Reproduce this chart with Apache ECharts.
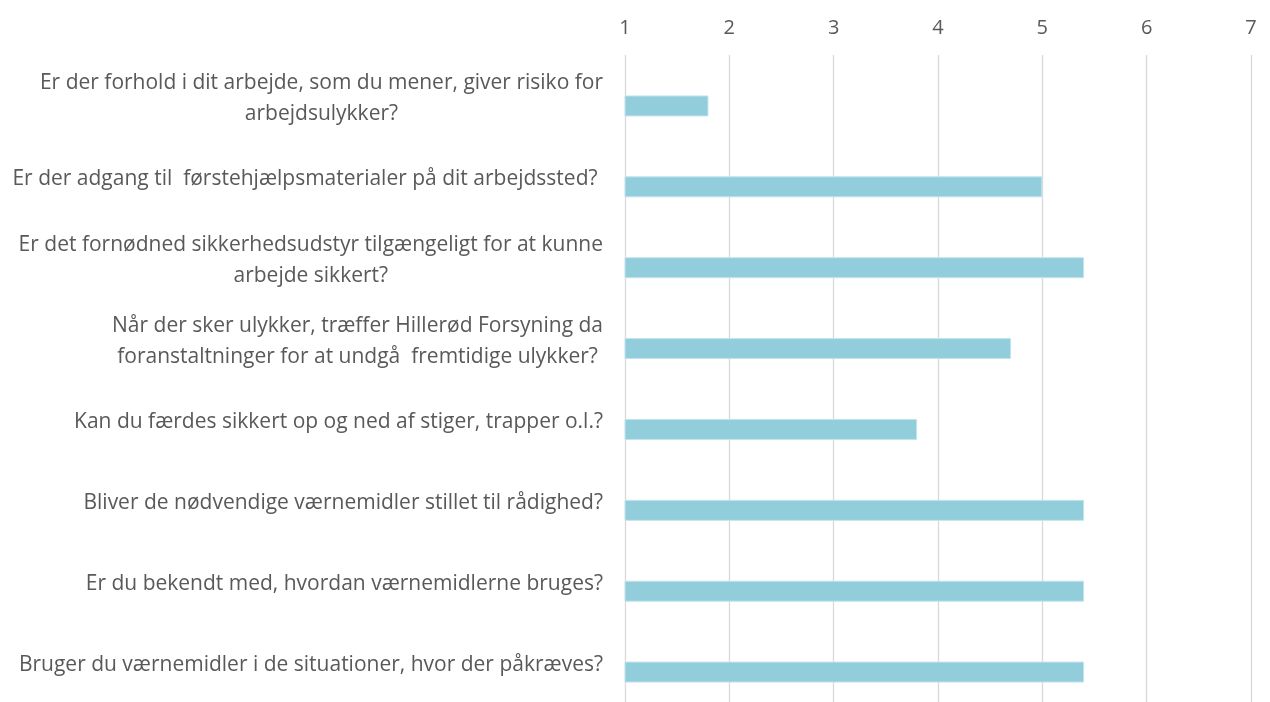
<!DOCTYPE html>
<html>
<head>
<meta charset="utf-8">
<script src="https://cdn.jsdelivr.net/npm/echarts@6/dist/echarts.min.js"></script>
<style>
  html, body { margin: 0; padding: 0; background: #fff; }
  #chart { width: 1270px; height: 702px; }
</style>
</head>
<body>
<div id="chart"></div>
<script>
// spørgsmål (kategorier), linjeskift som i originalen
const questions = [
  "Er der forhold i dit arbejde, som du mener, giver risiko for\narbejdsulykker?",
  "Er der adgang til  førstehjælpsmaterialer på dit arbejdssted? ",
  "Er det fornødned sikkerhedsudstyr tilgængeligt for at kunne\narbejde sikkert?",
  "Når der sker ulykker, træffer Hillerød Forsyning da\nforanstaltninger for at undgå  fremtidige ulykker?",
  "Kan du færdes sikkert op og ned af stiger, trapper o.l.?",
  "Bliver de nødvendige værnemidler stillet til rådighed?",
  "Er du bekendt med, hvordan værnemidlerne bruges?",
  "Bruger du værnemidler i de situationer, hvor der påkræves?"
];
const scores = [1.8, 5.0, 5.4, 4.7, 3.8, 5.4, 5.4, 5.4];
const scaleMin = 1;
const scaleMax = 7;

const textColor = "#595959";
const fontFamily = "'Open Sans', sans-serif";

let myChart = echarts.init(document.getElementById("chart"));

let option = {
  animation: false,
  grid: {
    left: 625,
    top: 55,
    width: 626,
    height: 653
  },
  xAxis: {
    type: "value",
    position: "top",
    min: scaleMin,
    max: scaleMax,
    interval: 1,
    axisLine: { show: false },
    axisTick: { show: false },
    axisLabel: {
      color: textColor,
      fontSize: 20,
      fontFamily: fontFamily,
      margin: 17
    },
    splitLine: {
      show: true,
      lineStyle: { color: "#d9d9d9", width: 1.3 }
    }
  },
  yAxis: {
    type: "category",
    inverse: true,
    data: questions,
    axisLine: { show: false },
    axisTick: { show: false },
    splitLine: { show: false },
    axisLabel: {
      margin: 22,
      align: "right",
      padding: [6, 0, 0, 0],
      formatter: (v) => v.split("\n").map((s) => "{c|" + s + "}").join("\n"),
      rich: {
        c: {
          align: "center",
          color: textColor,
          fontSize: 21,
          fontFamily: fontFamily,
          lineHeight: 31
        }
      }
    }
  },
  series: [
    {
      // tom serie, giver plads over den rigtige søjle (som i Excel)
      name: "tom",
      type: "bar",
      barWidth: 21,
      barGap: "0%",
      data: []
    },
    {
      name: "Gennemsnit",
      type: "bar",
      barWidth: 21,
      barGap: "0%",
      itemStyle: {
        color: "#92cddc",
        borderColor: "#c4e4ec",
        borderWidth: 1
      },
      data: scores
    }
  ]
};
myChart.setOption(option);
</script>
</body>
</html>
